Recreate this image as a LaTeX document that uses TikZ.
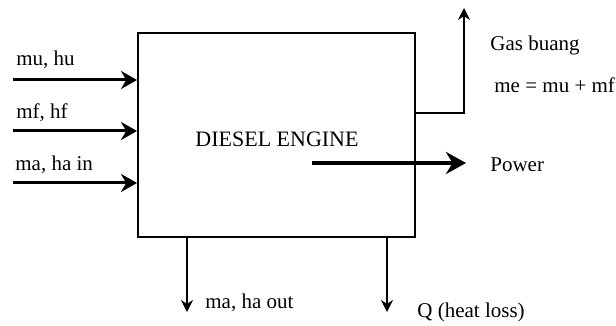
\documentclass[tikz,border=0pt]{standalone}
\usepackage{fontspec}
\setmainfont{Liberation Serif}
\usepackage{tikz}
\usetikzlibrary{arrows.meta, positioning, calc}

\tikzset{
  inflow/.style={line width=1.5pt, -{Stealth[length=8pt, width=9pt]}},
  outflow/.style={line width=0.8pt, -{Stealth[length=6pt, width=6pt]}},
  lbl/.style={anchor=west, inner sep=0pt, font=\fontsize{10.5}{12}\selectfont}
}

\begin{document}
\begin{tikzpicture}[x=0.5pt, y=-0.5pt]
  \useasboundingbox (0,0) rectangle (616,326);
  % engine block
  \node[draw, line width=1pt, minimum width=138.5pt, minimum height=102pt, inner sep=0pt] (engine) at (276.5,135) {};
  \node[font=\fontsize{11}{13}\selectfont] (title) at (277,139) {DIESEL ENGINE};
  % inputs
  \coordinate (muin) at (13,80);
  \coordinate (mfin) at (13,131);
  \coordinate (main) at (13,183);
  \draw[inflow] (muin) -- (muin -| engine.west);
  \draw[inflow] (mfin) -- (mfin -| engine.west);
  \draw[inflow] (main) -- (main -| engine.west);
  \node[lbl] (mulbl) at (16,60) {mu, hu};
  \node[lbl] (mflbl) at (16,113) {mf, hf};
  \node[lbl] (malbl) at (15,165) {ma, ha in};
  % outputs below
  \coordinate (maout) at (187,312);
  \coordinate (qout) at (387,312);
  \draw[outflow] (maout |- engine.south) -- (maout);
  \draw[outflow] (qout |- engine.south) -- (qout);
  \node[lbl] (maoutlbl) at (205,303) {ma, ha out};
  \node[lbl] (qlbl) at (417,312) {Q (heat loss)};
  % exhaust
  \coordinate (gasbend) at (464,113);
  \coordinate (gasup) at (464,8);
  \draw[outflow, line width=0.7pt] (gasbend -| engine.east) -- (gasbend) -- (gasup);
  \node[lbl] (gaslbl) at (490,45) {Gas buang};
  \node[lbl] (melbl) at (494,85) {me = mu + mf};
  % power
  \coordinate (pwstart) at (312,163);
  \coordinate (pwend) at (466,163);
  \draw[line width=2.2pt, -{Stealth[length=10pt, width=11pt]}] (pwstart) -- (pwend);
  \node[lbl] (power) at (490,165) {Power};
\end{tikzpicture}
\end{document}
